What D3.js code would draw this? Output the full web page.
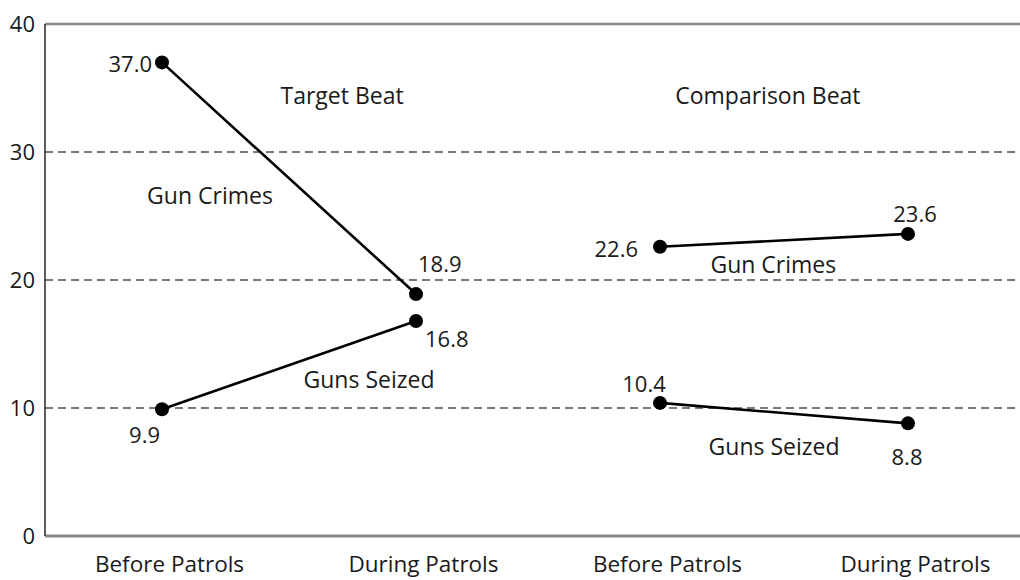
<!DOCTYPE html>
<html>
<head>
<meta charset="utf-8">
<script src="https://cdn.jsdelivr.net/npm/d3@7"></script>
<style>
  html, body { margin: 0; padding: 0; background: #fff; }
  svg { display: block; font-family: "Open Sans", "Noto Sans", sans-serif; }
</style>
</head>
<body>
<svg id="chart" width="1020" height="580"></svg>
<script>
// ---- data ----
const categories = ["Before Patrols", "During Patrols", "Before Patrols", "During Patrols"];
const yTicks = [0, 10, 20, 30, 40];
const groups = ["Target Beat", "Comparison Beat"];
const targetGunCrimes = [37.0, 18.9];
const targetGunsSeized = [9.9, 16.8];
const comparisonGunCrimes = [22.6, 23.6];
const comparisonGunsSeized = [10.4, 8.8];

// ---- layout ----
const W = 1020;
const mLeft = 45, mTop = 24, mBottom = 536;
const svg = d3.select("#chart");
const FS = 23;
const TXT = "#1a1a1a";

const x = d3.scaleLinear().domain([0, 1, 2, 3]).range([162, 416, 660, 908]);
const y = d3.scaleLinear().domain([0, 40]).range([mBottom, mTop]);

// gridlines
svg.append("g").selectAll("line")
  .data(yTicks.filter(d => d > 0 && d < 40))
  .join("line")
  .attr("x1", mLeft).attr("x2", W)
  .attr("y1", d => y(d)).attr("y2", d => y(d))
  .attr("stroke", "#7a7a7a").attr("stroke-width", 2)
  .attr("stroke-dasharray", "8,5");

// frame: top line, bottom axis line, left axis line
svg.append("line").attr("x1", mLeft).attr("x2", W).attr("y1", y(40)).attr("y2", y(40))
  .attr("stroke", "#888").attr("stroke-width", 2.5);
svg.append("line").attr("x1", mLeft).attr("x2", W).attr("y1", y(0)).attr("y2", y(0))
  .attr("stroke", "#888").attr("stroke-width", 3);
svg.append("line").attr("x1", mLeft).attr("x2", mLeft).attr("y1", y(40)).attr("y2", y(0))
  .attr("stroke", "#333").attr("stroke-width", 1.6);

// y axis labels
const yAxis = svg.append("g").attr("transform", `translate(${mLeft},0)`)
  .call(d3.axisLeft(y).tickValues(yTicks).tickSize(0).tickPadding(10).tickFormat(d3.format("d")));
yAxis.select(".domain").remove();
yAxis.selectAll("text").attr("font-size", 22).attr("fill", TXT)
  .attr("font-family", "'Open Sans', 'Noto Sans', sans-serif");

// x axis labels
const xAxis = svg.append("g").attr("transform", `translate(7,${mBottom})`)
  .call(d3.axisBottom(x).tickValues([0, 1, 2, 3]).tickSize(0).tickPadding(20)
    .tickFormat(i => categories[i]));
xAxis.select(".domain").remove();
xAxis.selectAll("text").attr("font-size", 22.5).attr("fill", TXT)
  .attr("font-family", "'Open Sans', 'Noto Sans', sans-serif");

// series
const series = [
  { vals: targetGunCrimes, xs: [0, 1],
    lab: [{dx: -10, dy: 10, a: "end"}, {dx: 2, dy: -22, a: "start"}] },
  { vals: targetGunsSeized, xs: [0, 1],
    lab: [{dx: -2, dy: 34, a: "end"}, {dx: 9, dy: 26, a: "start"}] },
  { vals: comparisonGunCrimes, xs: [2, 3],
    lab: [{dx: -22, dy: 10, a: "end"}, {dx: 7, dy: -12, a: "middle"}] },
  { vals: comparisonGunsSeized, xs: [2, 3],
    lab: [{dx: -16, dy: -11, a: "middle"}, {dx: -1, dy: 42, a: "middle"}] }
];

const line = d3.line().x(d => x(d[0])).y(d => y(d[1]));
const gS = svg.append("g");
series.forEach(s => {
  const pts = s.vals.map((v, i) => [s.xs[i], v]);
  gS.append("path").attr("d", line(pts)).attr("fill", "none")
    .attr("stroke", "#000").attr("stroke-width", 2.6);
  gS.selectAll(null).data(pts).join("circle")
    .attr("cx", d => x(d[0])).attr("cy", d => y(d[1])).attr("r", 7).attr("fill", "#000");
  gS.selectAll(null).data(pts).join("text")
    .attr("x", (d, i) => x(d[0]) + s.lab[i].dx)
    .attr("y", (d, i) => y(d[1]) + s.lab[i].dy)
    .attr("text-anchor", (d, i) => s.lab[i].a)
    .attr("font-size", 22).attr("fill", TXT)
    .text(d => d[1].toFixed(1));
});

// annotations (positions in data space: category index, value)
const notes = [
  { t: groups[0], xi: 0.709, v: 33.75 },
  { t: groups[1], xi: 2.435, v: 33.75 },
  { t: "Gun Crimes", xi: 0.189, v: 25.94 },
  { t: "Guns Seized", xi: 0.815, v: 11.56 },
  { t: "Gun Crimes", xi: 2.457, v: 20.55 },
  { t: "Guns Seized", xi: 2.46, v: 6.33 }
];
svg.append("g").selectAll("text").data(notes).join("text")
  .attr("x", d => x(d.xi)).attr("y", d => y(d.v))
  .attr("text-anchor", "middle").attr("font-size", FS).attr("fill", TXT)
  .text(d => d.t);
</script>
</body>
</html>
